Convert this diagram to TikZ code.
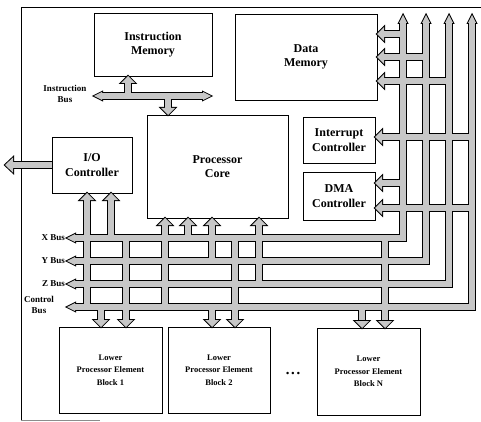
\documentclass[tikz,border=0pt]{standalone}
\usepackage{fontspec}
\setmainfont{Liberation Serif}

\newcommand\tipH[4]{(#1,#2) -- ++(#3,-#4) -- ++(0,2*#4) -- cycle }
\newcommand\tipV[4]{(#1,#2) -- ++(-#4,#3) -- ++(2*#4,0) -- cycle }

\newcommand\busways{%
  (75,238) -| (403,23)
  (75,261) -| (426,23)
  (75,284) -| (449,23)
  (75,307) -| (472,23)
  (102,96) -- (203,96)
  (128,96) -- (128,83)
  (168,96) -- (168,108)
  (io.west) -- (13,165)
  (87,200) -- (87,307)
  (111,200) -- (111,238)
  (165,225) -- (165,307)
  (188,225) -- (188,238)
  (212,225) -- (212,261)
  (259,225) -- (259,284)
  (384,34) -- (403,34)
  (384,57) -- (426,57)
  (384,81) -- (449,81)
  (382,137) -- (472,137)
  (382,183) -- (403,183)
  (382,208) -- (472,208)
  (101,307) -- (101,320)
  (126,238) -- (126,320)
  (212,307) -- (212,320)
  (235,238) -- (235,320)
  (362,307) -- (362,320)
  (385,238) -- (385,320)
}

\newcommand\busheads{%
  \tipH{67}{238}{8}{4} \tipH{67}{261}{8}{4} \tipH{67}{284}{8}{4} \tipH{67}{307}{8}{4}
  \tipV{403}{15}{8}{4} \tipV{426}{15}{8}{4} \tipV{449}{15}{8}{4} \tipV{472}{15}{8}{4}
  \tipH{94}{96}{8}{4} \tipH{211}{96}{-8}{4}
  \tipV{128}{76}{7}{7} \tipV{168}{115}{-7}{7}
  \tipH{5}{165}{8}{7.5}
  \tipV{87}{193}{7}{7} \tipV{111}{193}{7}{7}
  \tipV{165}{218}{7}{7} \tipV{188}{218}{7}{7} \tipV{212}{218}{7}{7} \tipV{259}{218}{7}{7}
  \tipH{377}{34}{7}{7} \tipH{377}{57}{7}{7} \tipH{377}{81}{7}{7}
  \tipH{375}{137}{7}{7} \tipH{375}{183}{7}{7} \tipH{375}{208}{7}{7}
  \tipV{101}{327}{-7}{7} \tipV{126}{327}{-7}{7}
  \tipV{212}{327}{-7}{7} \tipV{235}{327}{-7}{7}
  \tipV{362}{328}{-7}{7} \tipV{385}{328}{-7}{7}
}

\begin{document}
\begin{tikzpicture}[x=1pt, y=-1pt,
    box/.style={draw, line width=0.9pt, align=center, inner sep=0pt,
      font=\fontsize{12}{14.5}\selectfont\bfseries},
    peblock/.style={box, minimum width=103pt, minimum height=86pt,
      font=\fontsize{8.5}{12.5}\selectfont\bfseries},
    lab/.style={align=center, inner sep=0pt,
      font=\fontsize{9}{11}\selectfont\bfseries},
    busfill/.style={color=black!22}]
  \useasboundingbox (0,0) rectangle (481,422);
  \draw[line width=1pt] (481,8) -- (21,8) -- (21,420);
  \draw[black!45, line width=1pt] (21,420) -- (100,420);

  \node[box, minimum width=118pt, minimum height=63pt] (imem) at (153,44.5) {Instruction\\Memory};
  \node[box, minimum width=142pt, minimum height=86pt] (dmem) at (306,57) {Data\\Memory};
  \node[box, minimum width=141pt, minimum height=103pt] (core) at (217.5,166.5) {Processor\\Core};
  \node[box, minimum width=80pt, minimum height=56pt] (io) at (92,165) {I/O\\Controller};
  \node[box, minimum width=72pt, minimum height=46pt] (intc) at (339,140) {Interrupt\\Controller};
  \node[box, minimum width=72pt, minimum height=48pt] (dma) at (339,196) {DMA\\Controller};
  \node[peblock] (pe1) at (110.5,370) {Lower\\Processor Element\\Block 1};
  \node[peblock, minimum width=102pt] (pe2) at (219,370) {Lower\\Processor Element\\Block 2};
  \node[peblock, minimum height=87pt] (pen) at (368.5,371.5) {Lower\\Processor Element\\Block N};
  \node[lab] (dots) at (293,374) {\textbullet\ \textbullet\ \textbullet};

  \node[lab] (ibus) at (65,94) {Instruction\\Bus};
  \node[lab, anchor=east] (xbus) at (65,238) {X Bus};
  \node[lab, anchor=east] (ybus) at (65,261) {Y Bus};
  \node[lab, anchor=east] (zbus) at (65,284) {Z Bus};
  \node[lab] (cbus) at (39,305) {Control\\Bus};

  % bus outlines first, then the shaded inside
  \draw[line width=8pt] \busways;
  \filldraw[line width=2pt, line join=miter] \busheads;
  \draw[busfill, line width=6pt] \busways;
  \fill[busfill] \busheads;
\end{tikzpicture}
\end{document}
